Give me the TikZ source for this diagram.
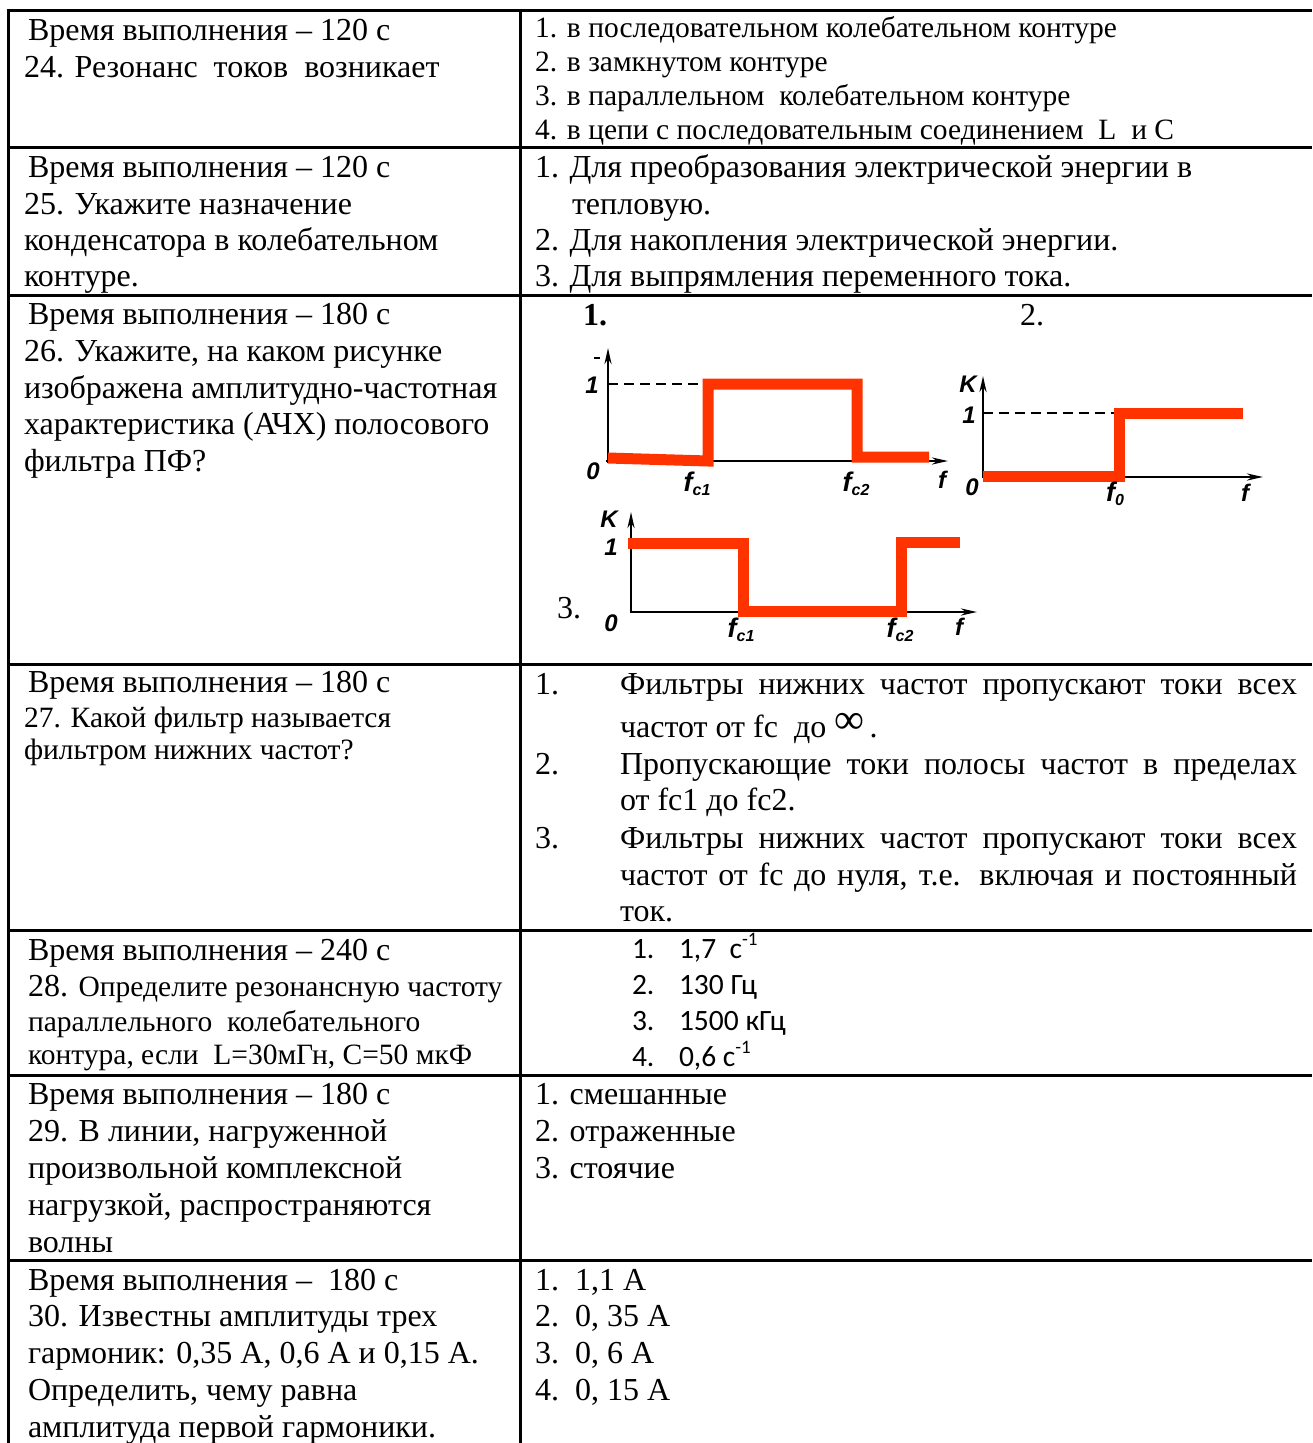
\documentclass[tikz,border=0pt]{standalone}
\usepackage{fontspec}
\setmainfont{Liberation Serif}
\newfontfamily\calib{Carlito}
\newfontfamily\lblfont{Liberation Sans}
\usetikzlibrary{arrows.meta}
\definecolor{redline}{RGB}{255,51,0}
\tikzset{
  txt/.style={anchor=base west, inner sep=0pt, outer sep=0pt, font=\fontsize{32}{37}\selectfont},
  txts/.style={anchor=base west, inner sep=0pt, outer sep=0pt, font=\fontsize{29.5}{34}\selectfont},
  txtc/.style={anchor=base west, inner sep=0pt, outer sep=0pt, font=\calib\fontsize{29.5}{36}\selectfont},
  grid/.style={line width=3pt},
  axisl/.style={line width=2.5pt, -{Stealth[length=16pt,width=7pt]}},
  dashl/.style={line width=1.8pt, dash pattern=on 10pt off 6pt},
  redl/.style={line width=11pt, redline},
  lbl/.style={inner sep=0pt, font=\lblfont\bfseries\itshape\fontsize{24}{24}\selectfont},
}
\newcommand{\fsub}[1]{{\fontsize{27}{27}\selectfont f}{\fontsize{16}{16}\selectfont\raisebox{-4pt}{#1}}}
\newcommand{\supm}{{\fontsize{19}{19}\selectfont\raisebox{13pt}{-1}}}
\begin{document}
\begin{tikzpicture}[x=1pt,y=-1pt]
\useasboundingbox (0,0) rectangle (1312,1443);
% ---------- table grid ----------
\foreach \yy in {10,147,295,664,930,1075,1260}{\draw[grid] (6.5,\yy) -- (1312,\yy);}
\draw[grid] (8,8.5) -- (8,1443);
\draw[grid] (520,8.5) -- (520,1443);
% ---------- row 24 ----------
\node[txt] (l24a) at (28,40) {Время выполнения – 120 с};
\node[txt] (l24b) at (24,77) {24. Резонанс~~токов~~возникает};
\node[txts] (r24a) at (535,37) {1. в последовательном колебательном контуре};
\node[txts] (r24b) at (535,71) {2. в замкнутом контуре};
\node[txts] (r24c) at (535,105) {3. в параллельном~~колебательном контуре};
\node[txts] (r24d) at (535,139) {4. в цепи с последовательным соединением~~L~~и С};
% ---------- row 25 ----------
\node[txt] (l25a) at (28,177) {Время выполнения – 120 с};
\node[txt] (l25b) at (24,214) {25. Укажите назначение};
\node[txt] (l25c) at (24,250) {конденсатора в колебательном};
\node[txt] (l25d) at (24,286) {контуре.};
\node[txt] (r25a) at (535,177) {1. Для преобразования электрической энергии в};
\node[txt] (r25b) at (572,214) {тепловую.};
\node[txt] (r25c) at (535,250) {2. Для накопления электрической энергии.};
\node[txt] (r25d) at (535,286) {3. Для выпрямления переменного тока.};
% ---------- row 26 ----------
\node[txt] (l26a) at (28,324) {Время выполнения – 180 с};
\node[txt] (l26b) at (24,361) {26. Укажите, на каком рисунке};
\node[txt] (l26c) at (24,398) {изображена амплитудно-частотная};
\node[txt] (l26d) at (24,434) {характеристика (АЧХ) полосового};
\node[txt] (l26e) at (24,471) {фильтра ПФ?};
\node[txt,font=\bfseries\fontsize{32}{37}\selectfont] (r26n1) at (583,325) {1.};
\node[txt] (r26n2) at (1020,325) {2.};
\node[txt] (r26n3) at (557,618) {3.};
% chart 1
\coordinate (c1yb) at (608,463);
\coordinate (c1yt) at (608,348);
\coordinate (c1xl) at (606,461);
\coordinate (c1xr) at (948,461);
\coordinate (c1d0) at (608,384);
\coordinate (c1d1) at (705,384);
\draw[axisl] (c1yb) -- (c1yt);
\draw[axisl] (c1xl) -- (c1xr);
\draw[dashl] (c1d0) -- (c1d1);
\coordinate (c1m0) at (594,358);
\coordinate (c1m1) at (600,358);
\draw[line width=2pt] (c1m0) -- (c1m1);
\draw[redl] (608,458) -- (708,461) -- (708,384) -- (857,384) -- (857,457) -- (929,457);
\node[lbl] (c1one) at (592,385) {1};
\node[lbl] (c1zero) at (593,471) {0};
\node[lbl] (c1f1) at (697,484) {\fsub{c1}};
\node[lbl] (c1f2) at (856,484) {\fsub{c2}};
\node[lbl] (c1f) at (942,480) {f};
% chart 2
\coordinate (c2yb) at (983,478);
\coordinate (c2yt) at (983,376);
\coordinate (c2xl) at (983,477);
\coordinate (c2xr) at (1263,477);
\coordinate (c2d0) at (983,413);
\coordinate (c2d1) at (1115,413);
\draw[axisl] (c2yb) -- (c2yt);
\draw[axisl] (c2xl) -- (c2xr);
\draw[dashl] (c2d0) -- (c2d1);
\draw[redl] (983,476.5) -- (1119,476.5) -- (1119,413.5) -- (1243,413.5);
\node[lbl] (c2k) at (968,384) {K};
\node[lbl] (c2one) at (969,415) {1};
\node[lbl] (c2zero) at (972,487) {0};
\node[lbl] (c2fc) at (1115,494) {\fsub{0}};
\node[lbl] (c2f) at (1245,493) {f};
% chart 3
\coordinate (c3yb) at (631,613);
\coordinate (c3yt) at (631,512);
\coordinate (c3xl) at (631,612);
\coordinate (c3xr) at (977,612);
\draw[axisl] (c3yb) -- (c3yt);
\draw[axisl] (c3xl) -- (c3xr);
\draw[redl] (628,543) -- (743.5,543) -- (743.5,611) -- (901.5,611) -- (901.5,542) -- (960,542);
\node[lbl] (c3k) at (609,519) {K};
\node[lbl] (c3one) at (611,547) {1};
\node[lbl] (c3zero) at (611,623) {0};
\node[lbl] (c3f1) at (741,630) {\fsub{c1}};
\node[lbl] (c3f2) at (900,630) {\fsub{c2}};
\node[lbl] (c3f) at (959,627) {f};
% ---------- row 27 ----------
\node[txt] (l27a) at (28,692) {Время выполнения – 180 с};
\node[txts] (l27b) at (24,727) {27. Какой фильтр называется};
\node[txts] (l27c) at (24,759) {фильтром нижних частот?};
\node[txt] (r27n1) at (535,694) {1.};
\node[txt] (r27a) at (620,694) {\makebox[677pt][s]{Фильтры нижних частот пропускают токи всех}};
\node[txt] (r27b) at (620,737) {частот от fc~~до {\fontsize{42}{42}\selectfont\smash{\raisebox{4pt}{∞}}}\,.};
\node[txt] (r27n2) at (535,774) {2.};
\node[txt] (r27c) at (620,774) {\makebox[677pt][s]{Пропускающие токи полосы частот в пределах}};
\node[txt] (r27d) at (620,810) {от fc1 до fc2.};
\node[txt] (r27n3) at (535,848) {3.};
\node[txt] (r27e) at (620,848) {\makebox[677pt][s]{Фильтры нижних частот пропускают токи всех}};
\node[txt] (r27f) at (620,885) {\makebox[677pt][s]{частот от fc до нуля, т.е. включая и постоянный}};
\node[txt] (r27g) at (620,921) {ток.};
% ---------- row 28 ----------
\node[txt] (l28a) at (28,960) {Время выполнения – 240 с};
\node[txt] (l28b) at (28,996) {28. {\fontsize{29.5}{34}\selectfont Определите резонансную частоту}};
\node[txts] (l28c) at (28,1031) {параллельного~~колебательного};
\node[txts] (l28d) at (28,1064) {контура, если~~L=30мГн, С=50 мкФ};
\node[txtc] (r28n1) at (632,958) {1.};
\node[txtc] (r28a) at (679,958) {1,7~~с\supm};
\node[txtc] (r28n2) at (632,994) {2.};
\node[txtc] (r28b) at (679,994) {130 Гц};
\node[txtc] (r28n3) at (632,1030) {3.};
\node[txtc] (r28c) at (679,1030) {1500 кГц};
\node[txtc] (r28n4) at (632,1066) {4.};
\node[txtc] (r28d) at (679,1066) {0,6 с\supm};
% ---------- row 29 ----------
\node[txt] (l29a) at (28,1104) {Время выполнения – 180 с};
\node[txt] (l29b) at (28,1141) {29. В линии, нагруженной};
\node[txt] (l29c) at (28,1178) {произвольной комплексной};
\node[txt] (l29d) at (28,1215) {нагрузкой, распространяются};
\node[txt] (l29e) at (28,1252) {волны};
\node[txt] (r29a) at (535,1104) {1. смешанные};
\node[txt] (r29b) at (535,1141) {2. отраженные};
\node[txt] (r29c) at (535,1178) {3. стоячие};
% ---------- row 30 ----------
\node[txt] (l30a) at (28,1290) {Время выполнения –~~180 с};
\node[txt] (l30b) at (28,1326) {30. Известны амплитуды трех};
\node[txt] (l30c) at (28,1363) {гармоник: 0,35 А, 0,6 А и 0,15 А.};
\node[txt] (l30d) at (28,1400) {Определить, чему равна};
\node[txt] (l30e) at (28,1437) {амплитуда первой гармоники.};
\node[txt] (r30n1) at (535,1290) {1.};
\node[txt] (r30a) at (575,1290) {1,1 А};
\node[txt] (r30n2) at (535,1326) {2.};
\node[txt] (r30b) at (575,1326) {0, 35 А};
\node[txt] (r30n3) at (535,1363) {3.};
\node[txt] (r30c) at (575,1363) {0, 6 А};
\node[txt] (r30n4) at (535,1400) {4.};
\node[txt] (r30d) at (575,1400) {0, 15 А};
\end{tikzpicture}
\end{document}
